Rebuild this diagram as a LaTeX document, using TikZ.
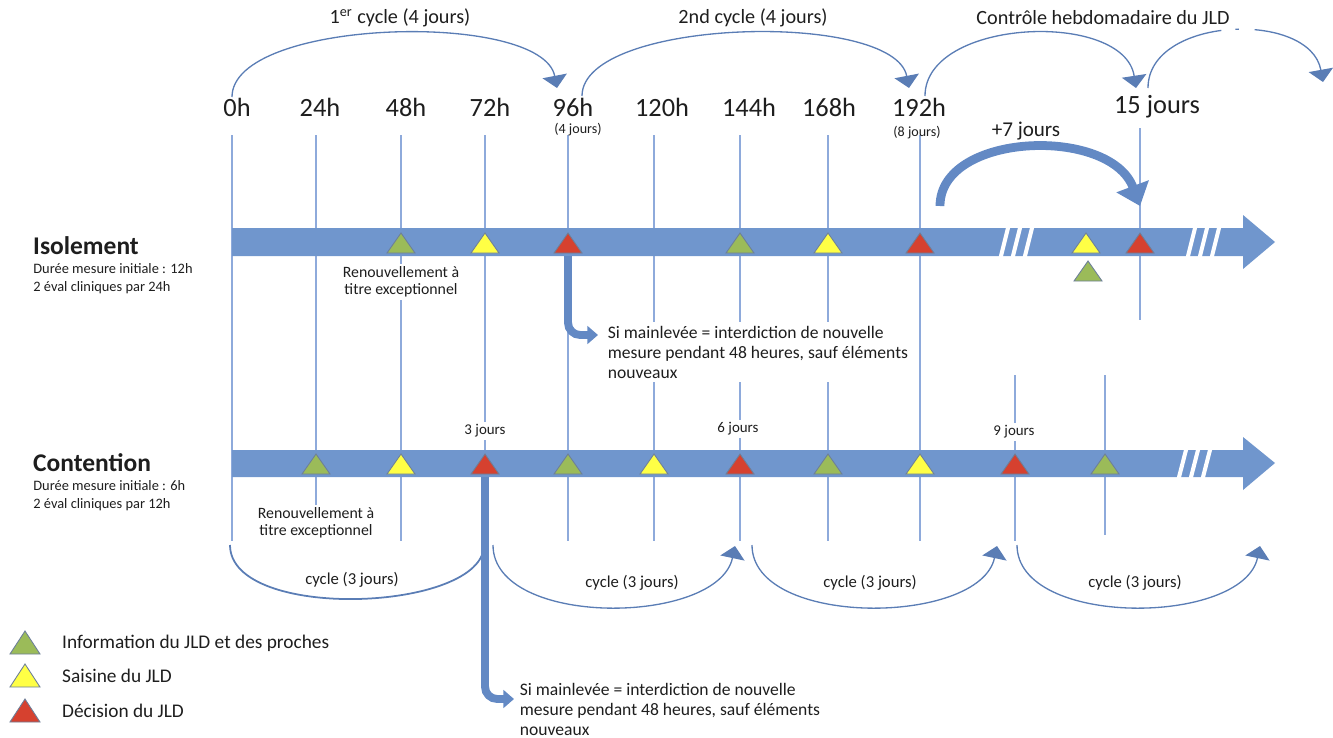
\documentclass[tikz,border=0pt]{standalone}
\usepackage{fontspec}
\setmainfont{Carlito}
\usetikzlibrary{arrows.meta}

\definecolor{barblue}{HTML}{7096CD}
\definecolor{gridblue}{HTML}{8EAADB}
\definecolor{arcblue}{HTML}{5A7DB5}
\definecolor{arrowblue}{HTML}{6389C4}
\definecolor{jgreen}{HTML}{9BBB59}
\definecolor{jyellow}{HTML}{FFFF45}
\definecolor{jred}{HTML}{D6412F}
\definecolor{triedge}{HTML}{6D7F99}
\definecolor{ink}{HTML}{1E1E1E}

\begin{document}
\begin{tikzpicture}[x=0.2mm,y=-0.2mm,text=ink,
  tickline/.style={draw=gridblue,line width=0.6pt},
  cyc/.style={draw=arcblue,line width=0.75pt,-{Triangle[width=14pt,length=7pt]}},
  bigarrow/.style={draw=arrowblue,line width=5pt,-{Triangle[width=19pt,length=12pt]}},
  larrow/.style={draw=arrowblue,line width=4.5pt,rounded corners=7pt,-{Triangle[width=10pt,length=6pt]}},
  tri/.style={draw=triedge,line width=0.5pt},
  brk/.style={draw=white,line width=2.3pt},
  hour/.style={font=\fontsize{15}{18}\selectfont},
  small/.style={font=\fontsize{8}{9.6}\selectfont},
  toplabel/.style={font=\fontsize{11.5}{13.8}\selectfont},
  title/.style={font=\fontsize{14.5}{17}\selectfont\bfseries,anchor=west},
  desc/.style={font=\fontsize{8.2}{10.2}\selectfont,anchor=north west,align=left,inner sep=0pt},
  renew/.style={font=\fontsize{9}{9.8}\selectfont,align=center,fill=white,inner sep=1.5pt},
  note/.style={font=\fontsize{10}{11.4}\selectfont,align=left,anchor=north west,fill=white,inner sep=2pt},
  day/.style={font=\fontsize{8.5}{10}\selectfont,fill=white,inner sep=1.5pt},
  cyclabel/.style={font=\fontsize{9.5}{11}\selectfont},
  legend/.style={font=\fontsize{11}{13}\selectfont,anchor=west}]

  \useasboundingbox (0,0) rectangle (1333,737);

  % vertical tick lines
  \foreach \x in {232,316,401,485,568,654,740,828,920}
    \draw[tickline] (\x,135) -- (\x,541);
  \draw[tickline] (1140,128) -- (1140,320);
  \draw[tickline] (1015,375) -- (1015,541);
  \draw[tickline] (1105,375) -- (1105,535);

  % hours
  \foreach \x/\t/\n in {237/0h/h0,320/24h/h24,406/48h/h48,490/72h/h72,573/96h/h96,
      662/120h/h120,749/144h/h144,829/168h/h168,919/192h/h192,1157/15 jours/h15}
    \node[hour] (\n) at (\x,107) {\t};
  \node[small] (j4) at (578,130) {(4 jours)};
  \node[small] (j8) at (917,133) {(8 jours)};

  \node[toplabel] (c1) at (400,18) {1\textsuperscript{er} cycle (4 jours)};
  \node[toplabel] (c2) at (753,18) {2nd cycle (4 jours)};
  \node[toplabel] (c3) at (1103,18) {Contrôle hebdomadaire du JLD};

  % top cycles
  \coordinate (a0) at (232,97);  \coordinate (a1) at (557,88);
  \coordinate (b0) at (582,96);  \coordinate (b1) at (909,88);
  \coordinate (d0) at (925,96);  \coordinate (d1) at (1136,88);
  \coordinate (f0) at (1148,88); \coordinate (f1) at (1323,82);
  \draw[cyc] (a0) .. controls (232,18) and (542,10) .. (a1);
  \draw[cyc] (b0) .. controls (582,18) and (894,10) .. (b1);
  \draw[cyc] (d0) .. controls (925,18) and (1124,10) .. (d1);
  \draw[cyc,dash pattern=on 58pt off 8pt on 2pt off 9pt on 200pt] (f0) .. controls (1148,16) and (1310,10) .. (f1);

  % isolement
  \node[title] (iso) at (27,246) {Isolement};
  \node[desc] (isod) at (33,263) {Durée mesure initiale : 12h\\2 éval cliniques par 24h};
  \node[renew] (r1) at (401,282) {Renouvellement à\\titre exceptionnel};
  \node[note] (n1) at (604,322) {Si mainlevée = interdiction de nouvelle\\mesure pendant 48 heures, sauf éléments\\nouveaux};

  \fill[barblue] (232,228) -- (1243,228) -- (1243,215) -- (1275,242) -- (1243,269) -- (1243,256) -- (232,256) -- cycle;
  \foreach \x in {1000,1012,1024,1187,1199,1211}
    \draw[brk] (\x,260) -- (\x+9,224);

  \foreach \x/\c in {401/jgreen,485/jyellow,568/jred,740/jgreen,828/jyellow,920/jred,1086/jyellow,1140/jred}
    \filldraw[tri,fill=\c] (\x,243) ++(-14,10) -- ++(28,0) -- ++(-14,-20) -- cycle;
  \filldraw[tri,fill=jgreen] (1088,271) ++(-14,10) -- ++(28,0) -- ++(-14,-20) -- cycle;

  \coordinate (iso96) at (568,256);
  \coordinate (e1) at (598,335);
  \draw[larrow] (iso96) |- (e1);

  \node[font=\fontsize{12}{14}\selectfont] (p7) at (1026,131) {+7 jours};
  \coordinate (s7) at (940,206);
  \coordinate (e7) at (1140,206);
  \draw[bigarrow] (s7) .. controls (940,132) and (1110,126) .. (e7);

  % contention
  \node[title] (con) at (27,463) {Contention};
  \node[desc] (cond) at (33,480) {Durée mesure initiale : 6h\\2 éval cliniques par 12h};
  \node[day] (d3) at (485,431) {3 jours};
  \node[day] (d6) at (738,429) {6 jours};
  \node[day] (d9) at (1014,432) {9 jours};
  \node[renew] (r2) at (316,523) {Renouvellement à\\titre exceptionnel};

  \fill[barblue] (232,450) -- (1243,450) -- (1243,437) -- (1275,463) -- (1243,490) -- (1243,477) -- (232,477) -- cycle;
  \foreach \x in {1178,1190,1202}
    \draw[brk] (\x,481) -- (\x+9,446);

  \foreach \x/\c in {316/jgreen,401/jyellow,485/jred,568/jgreen,654/jyellow,740/jred,828/jgreen,920/jyellow,1015/jred,1105/jgreen}
    \filldraw[tri,fill=\c] (\x,464) ++(-14,10) -- ++(28,0) -- ++(-14,-20) -- cycle;

  % bottom cycles
  \coordinate (g0) at (230,545); \coordinate (g1) at (484,545);
  \coordinate (k0) at (493,545); \coordinate (k1) at (735,546);
  \coordinate (m0) at (752,545); \coordinate (m1) at (997,546);
  \coordinate (q0) at (1017,545); \coordinate (q1) at (1260,546);
  \draw[draw=arcblue,line width=1pt] (g0) .. controls (230,622) and (484,612) .. (g1);
  \draw[cyc] (k0) .. controls (493,628) and (718,626) .. (k1);
  \draw[cyc] (m0) .. controls (752,628) and (980,626) .. (m1);
  \draw[cyc] (q0) .. controls (1017,628) and (1243,626) .. (q1);
  \node[cyclabel] (y1) at (352,580) {cycle (3 jours)};
  \node[cyclabel] (y2) at (632,583) {cycle (3 jours)};
  \node[cyclabel] (y3) at (870,583) {cycle (3 jours)};
  \node[cyclabel] (y4) at (1135,583) {cycle (3 jours)};

  \coordinate (con72) at (485,477);
  \coordinate (e2) at (514,699);
  \draw[larrow] (con72) |- (e2);
  \node[note,fill=none] (n2) at (516,679) {Si mainlevée = interdiction de nouvelle\\mesure pendant 48 heures, sauf éléments\\nouveaux};

  % legend
  \foreach \y/\c/\t in {643/jgreen/Information du JLD et des proches,676/jyellow/Saisine du JLD,711/jred/Décision du JLD}{
    \filldraw[tri,fill=\c] (25,\y) ++(-15,11) -- ++(30,0) -- ++(-15,-23) -- cycle;
    \node[legend] at (56,\y) {\t};
  }
\end{tikzpicture}
\end{document}
